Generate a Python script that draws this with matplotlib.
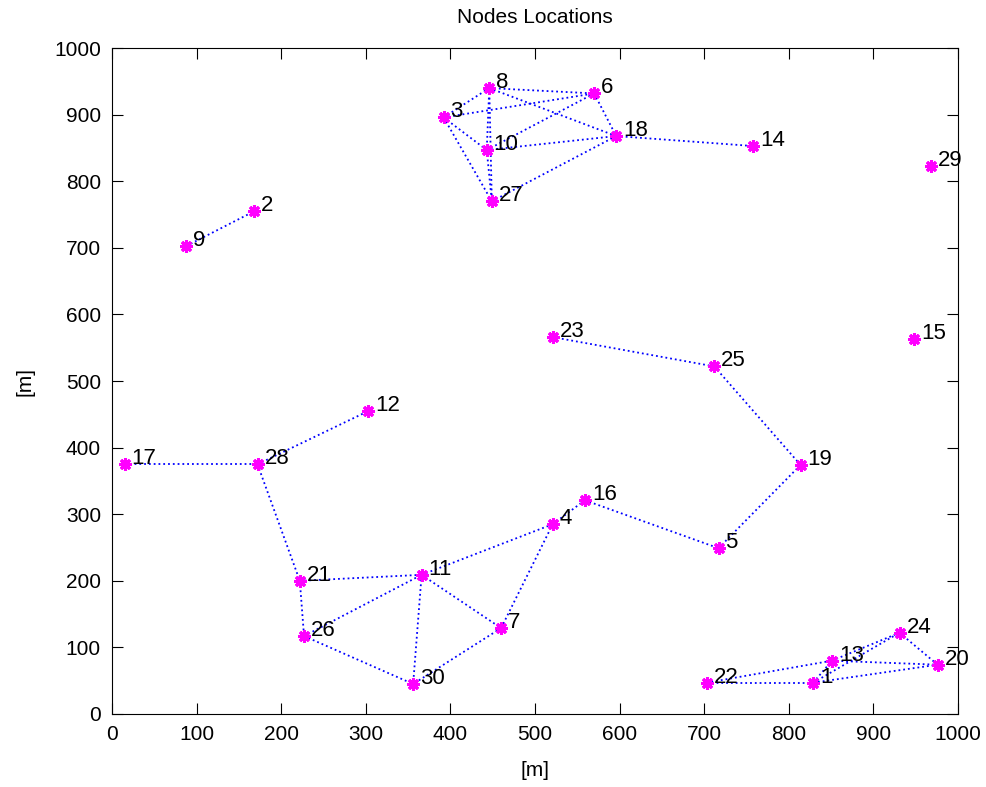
import matplotlib.pyplot as plt

# координати вузлів (м)
node_ids = list(range(1, 31))
node_x = [829, 168, 392, 521, 717, 570, 460, 446, 88, 443,
          366, 303, 851, 758, 948, 559, 15, 596, 814, 976,
          222, 703, 521, 931, 712, 227, 449, 172, 968, 356]
node_y = [47, 755, 896, 285, 249, 932, 129, 940, 703, 847,
          209, 455, 80, 853, 563, 321, 375, 868, 374, 74,
          200, 47, 566, 122, 522, 117, 770, 375, 823, 45]

# зв'язки між вузлами
edges = [(3, 8), (3, 6), (3, 10), (3, 27), (8, 6), (8, 10), (8, 27), (8, 18),
         (10, 6), (10, 18), (10, 27), (6, 18), (27, 18), (18, 14),
         (9, 2), (17, 28), (28, 12), (28, 21),
         (21, 11), (21, 26), (26, 11), (26, 30), (11, 30), (11, 7), (11, 4),
         (7, 4), (7, 30), (4, 16), (16, 5), (5, 19), (19, 25), (25, 23),
         (22, 1), (22, 13), (1, 13), (1, 20), (1, 24), (13, 20), (13, 24), (24, 20)]

plt.rcParams['font.family'] = ['Liberation Sans', 'DejaVu Sans']

fig = plt.figure(figsize=(9.87, 7.87), dpi=100)
ax = fig.add_axes([0.1135, 0.0928, 0.857, 0.846])

for a, b in edges:
    ax.plot([node_x[a - 1], node_x[b - 1]], [node_y[a - 1], node_y[b - 1]],
            ':', color='blue', lw=1.3)

ax.plot(node_x, node_y, marker=(8, 2, 0), color='magenta', ms=9, mew=2.2, ls='none')

for i, x, y in zip(node_ids, node_x, node_y):
    ax.annotate(str(i), (x, y), xytext=(5, 4), textcoords='offset points',
                fontsize=16, va='center', ha='left')

ax.set_xlim(0, 1000)
ax.set_ylim(0, 1000)
ax.set_xticks(range(0, 1001, 100))
ax.set_yticks(range(0, 1001, 100))
ax.tick_params(direction='in', length=8, top=True, right=True, labelsize=15, pad=8)
ax.set_title('Nodes Locations', fontsize=15, pad=18)
ax.set_xlabel('[m]', fontsize=15, labelpad=12)
ax.set_ylabel('[m]', fontsize=15, labelpad=14)

plt.savefig('out.png', dpi=100)
